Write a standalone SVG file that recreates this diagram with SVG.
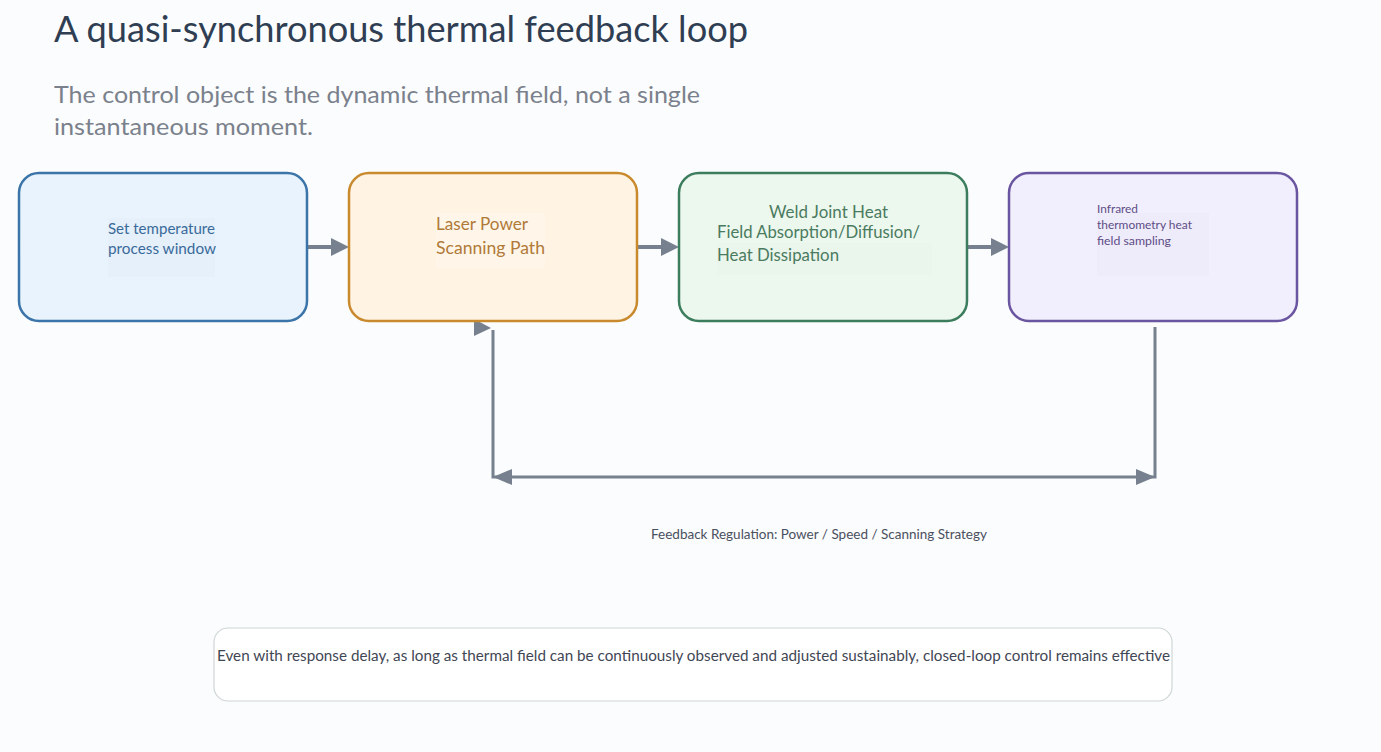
<svg xmlns="http://www.w3.org/2000/svg" width="1381" height="752" viewBox="0 0 1381 752">
<defs>
<style>
text{font-family:Lato,"Open Sans","Liberation Sans",sans-serif;}
.box{stroke-width:2.5;}
.conn{stroke:#76808e;fill:none;}
.head{fill:#76808e;}
.hl{opacity:0.5;}
</style>
</defs>
<rect width="1381" height="752" fill="#fbfcfd"/>
<g id="title">
<text x="54" y="42" font-size="36" fill="#2f3e52" textLength="694" lengthAdjust="spacingAndGlyphs">A quasi-synchronous thermal feedback loop</text>
<text x="54" y="103" font-size="23.5" fill="#7a818c" textLength="646" lengthAdjust="spacingAndGlyphs">The control object is the dynamic thermal field, not a single</text>
<text x="54" y="135" font-size="23.5" fill="#7a818c" textLength="259" lengthAdjust="spacingAndGlyphs">instantaneous moment.</text>
</g>
<g id="connectors">
<line class="conn" x1="308" y1="247" x2="334" y2="247" stroke-width="4"/>
<polygon class="head" points="331,238 349,247 331,256"/>
<line class="conn" x1="638" y1="247" x2="664" y2="247" stroke-width="4"/>
<polygon class="head" points="661,238 679,247 661,256"/>
<line class="conn" x1="968" y1="247" x2="994" y2="247" stroke-width="4"/>
<polygon class="head" points="991,238 1009,247 991,256"/>
<polyline class="conn" points="1155,327 1155,477 493,477 493,330" stroke-width="3"/>
<polygon class="head" points="1136,469 1155,477 1136,485"/>
<polygon class="head" points="512,469 493,477 512,485"/>
<polygon class="head" points="474,319 491,328 474,336"/>
</g>
<g id="node1">
<rect class="box" x="19" y="173" width="288" height="148" rx="20" fill="#e8f3fd" stroke="#3a74a8"/>
<rect class="hl" x="108" y="218" width="107" height="59" fill="#e2eefa"/>
<text x="108" y="234" font-size="15" fill="#3a6a99" textLength="107" lengthAdjust="spacingAndGlyphs">Set temperature</text>
<text x="108" y="254" font-size="15" fill="#3a6a99" textLength="108" lengthAdjust="spacingAndGlyphs">process window</text>
</g>
<g id="node2">
<rect class="box" x="349" y="173" width="288" height="148" rx="20" fill="#fff3e3" stroke="#c98a2e"/>
<rect class="hl" x="436" y="213" width="109" height="55" fill="#fff7ee"/>
<text x="436" y="230" font-size="17" fill="#b07a38" textLength="92" lengthAdjust="spacingAndGlyphs">Laser Power</text>
<text x="436" y="254" font-size="17" fill="#b07a38" textLength="109" lengthAdjust="spacingAndGlyphs">Scanning Path</text>
</g>
<g id="node3">
<rect class="box" x="679" y="173" width="288" height="148" rx="20" fill="#ecf7ee" stroke="#3b7d5c"/>
<rect class="hl" x="717" y="243" width="215" height="32" fill="#e7f3ea"/>
<text x="769" y="218" font-size="17" fill="#4a7b5f" textLength="119" lengthAdjust="spacingAndGlyphs">Weld Joint Heat</text>
<text x="717" y="238" font-size="17" fill="#4a7b5f" textLength="203" lengthAdjust="spacingAndGlyphs">Field Absorption/Diffusion/</text>
<text x="717" y="261" font-size="17" fill="#4a7b5f" textLength="122" lengthAdjust="spacingAndGlyphs">Heat Dissipation</text>
</g>
<g id="node4">
<rect class="box" x="1009" y="173" width="288" height="148" rx="20" fill="#f1effd" stroke="#6a55a0"/>
<rect class="hl" x="1097" y="213" width="112" height="63" fill="#ebe8fa"/>
<text x="1097" y="213" font-size="11.5" fill="#5d4d85" textLength="41" lengthAdjust="spacingAndGlyphs">Infrared</text>
<text x="1097" y="229" font-size="11.5" fill="#5d4d85" textLength="95" lengthAdjust="spacingAndGlyphs">thermometry heat</text>
<text x="1097" y="245" font-size="11.5" fill="#5d4d85" textLength="74" lengthAdjust="spacingAndGlyphs">field sampling</text>
</g>
<g id="feedback-label">
<text x="651" y="539" font-size="12.5" fill="#4a5060" textLength="336" lengthAdjust="spacingAndGlyphs">Feedback Regulation: Power / Speed / Scanning Strategy</text>
</g>
<g id="note">
<rect x="214" y="628" width="958" height="73" rx="14" fill="#ffffff" stroke="#cfd6d6" stroke-width="1.2"/>
<text x="217" y="661" font-size="14.5" fill="#3f4654" textLength="953" lengthAdjust="spacingAndGlyphs">Even with response delay, as long as thermal field can be continuously observed and adjusted sustainably, closed-loop control remains effective</text>
</g>
</svg>
